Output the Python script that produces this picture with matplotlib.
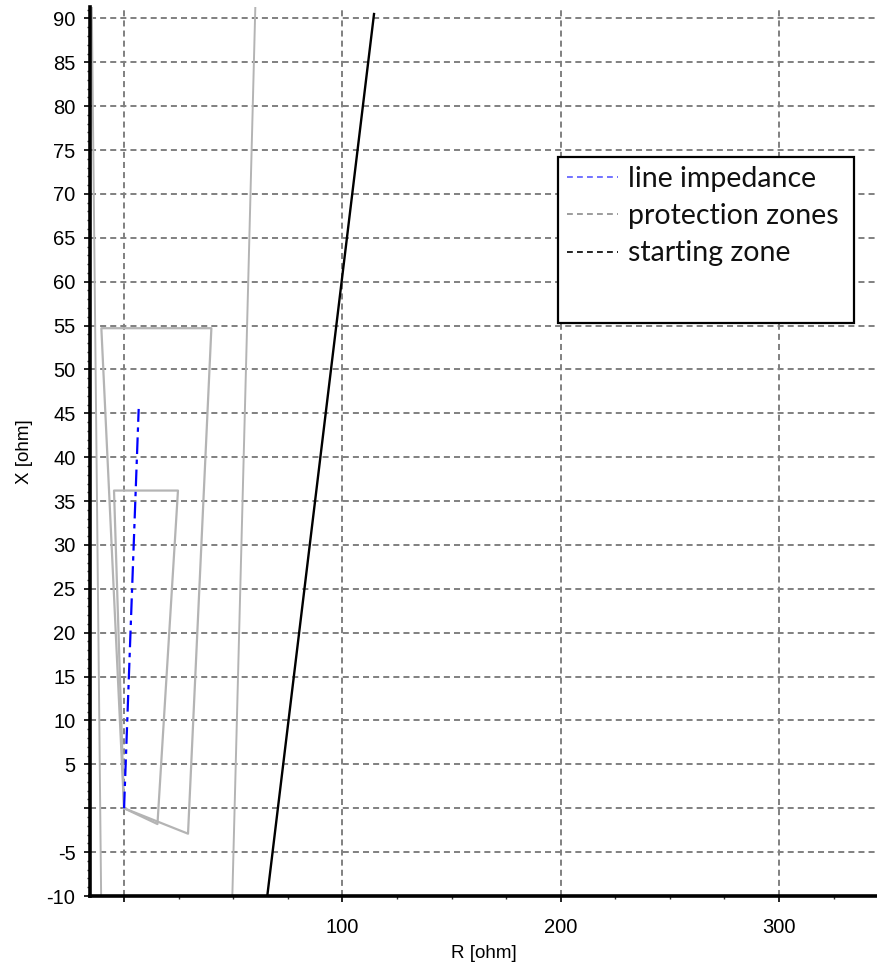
import matplotlib
matplotlib.use("Agg")
import matplotlib.pyplot as plt
from matplotlib.lines import Line2D
from matplotlib.patches import Rectangle
from matplotlib.ticker import MultipleLocator, FuncFormatter

# line impedance (R, X) in ohm
line_r = [0.0, 6.7]
line_x = [0.0, 45.5]

# protection zone polygons, closed through the origin
zone1_r = [0.0, 15.3, 24.7, -4.6, 0.0]
zone1_x = [0.0, -1.8, 36.2, 36.2, 0.0]
zone2_r = [0.0, 29.3, 40.0, -10.4, 0.0]
zone2_x = [0.0, -2.9, 54.7, 54.7, 0.0]

# zone 3 boundaries (open lines running off the plot)
zone3_left_r = [-10.5, -14.8]
zone3_left_x = [-10.0, 92.0]
zone3_right_r = [49.6, 60.2]
zone3_right_x = [-10.0, 92.0]

# starting zone boundary
start_r = [65.6, 114.5]
start_x = [-10.0, 90.5]

legend_labels = ["line impedance", "protection zones", "starting zone"]

W, H = 877, 968
fig = plt.figure(figsize=(W / 100, H / 100), dpi=100)
ax = fig.add_axes([90 / W, 1 - 896 / H, (W - 90) / W, (896 - 7) / H])

GREY = "#b4b4b4"
ax.plot(zone3_left_r, zone3_left_x, color=GREY, lw=1.4, zorder=2)
ax.plot(zone3_right_r, zone3_right_x, color=GREY, lw=1.4, zorder=2)
ax.plot(zone2_r, zone2_x, color=GREY, lw=1.6, zorder=2)
ax.plot(zone1_r, zone1_x, color=GREY, lw=1.6, zorder=2)
ax.plot(start_r, start_x, color="black", lw=1.7, zorder=3)
ax.plot(line_r, line_x, color="#0000ff", lw=1.6,
        linestyle=(0, (7.5, 2.5, 2, 2.5)), zorder=4)

ax.set_xlim(-15.6, 344.9)
ax.set_ylim(-10, 91.3)

ax.xaxis.set_major_locator(MultipleLocator(100))
ax.xaxis.set_minor_locator(MultipleLocator(25))
ax.yaxis.set_major_locator(MultipleLocator(5))
ax.yaxis.set_minor_locator(MultipleLocator(1))
# the origin is left unlabelled on both axes
skip_zero = FuncFormatter(lambda v, pos: "" if abs(v) < 1e-9 else "%d" % v)
ax.xaxis.set_major_formatter(skip_zero)
ax.yaxis.set_major_formatter(skip_zero)

for lab in ax.get_xticklabels() + ax.get_yticklabels():
    lab.set_fontfamily("Liberation Sans")
ax.tick_params(which="major", length=4.5, width=1.2, pad=6,
               labelsize=14.5, colors="black")
ax.tick_params(which="minor", length=2.5, width=1.0, colors="#333333")
ax.tick_params(axis="x", which="major", pad=11)

ax.grid(True, which="major", color="#808080", lw=1.4,
        linestyle=(0, (3.1, 2.1)))
ax.set_axisbelow(True)

for side in ("top", "right"):
    ax.spines[side].set_visible(False)
for side in ("left", "bottom"):
    ax.spines[side].set_linewidth(2.6)
    ax.spines[side].set_color("black")

ax.set_xlabel("R [ohm]", fontfamily="Liberation Sans", fontsize=13.5, labelpad=6)
ax.set_ylabel("X [ohm]", fontfamily="Liberation Sans", fontsize=13.5, labelpad=10)

# legend box drawn separately so it can hold the extra blank space
box_l, box_t, box_r, box_b = 558, 157, 854, 323
to_ax = ax.transAxes.inverted()
(x0, y0) = to_ax.transform(fig.transFigure.transform((box_l / W, 1 - box_b / H)))
(x1, y1) = to_ax.transform(fig.transFigure.transform((box_r / W, 1 - box_t / H)))
ax.add_patch(Rectangle((x0, y0), x1 - x0, y1 - y0, transform=ax.transAxes,
                       facecolor="white", edgecolor="black", lw=1.6,
                       zorder=5, clip_on=False))

handles = [
    Line2D([], [], color="#5a5aff", lw=1.2, linestyle=(0, (3.5, 2.5))),
    Line2D([], [], color="#8c8c8c", lw=1.2, linestyle=(0, (3.5, 2.5))),
    Line2D([], [], color="black", lw=1.2, linestyle=(0, (3.5, 2.5))),
]
leg = ax.legend(handles, legend_labels, loc="upper left",
                bbox_to_anchor=(561.5 / W, 1 - 160 / H),
                bbox_transform=fig.transFigure, frameon=False,
                prop={"family": "Lato", "size": 20.5},
                handlelength=1.8, handletextpad=0.35, labelspacing=0.4,
                borderpad=0.2, borderaxespad=0)
leg.set_zorder(6)
for t in leg.get_texts():
    t.set_color("#111111")

fig.savefig("out.png", dpi=100)
